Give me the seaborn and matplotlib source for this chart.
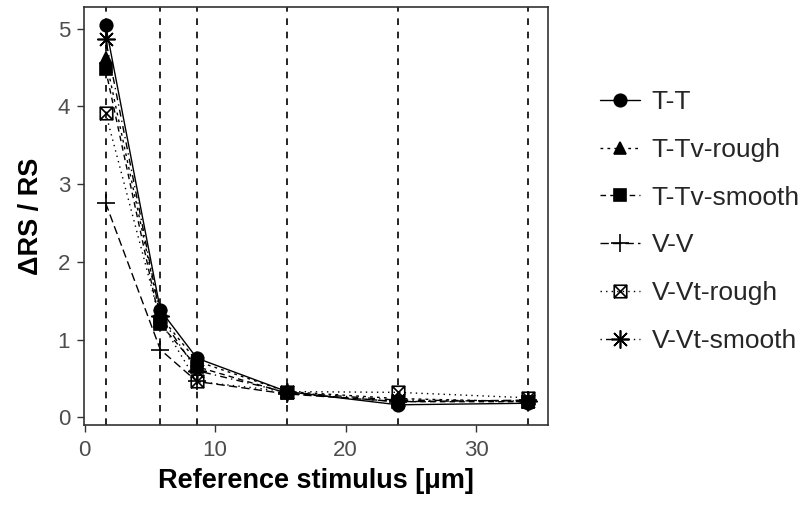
import numpy as np
import pandas as pd
import matplotlib
matplotlib.use("Agg")
import matplotlib.pyplot as plt
from matplotlib.path import Path
import seaborn as sns

# ---- data ----
x_ref = [1.6, 5.8, 8.6, 15.5, 24.0, 34.0]
series = ["T-T", "T-Tv-rough", "T-Tv-smooth", "V-V", "V-Vt-rough", "V-Vt-smooth"]
tt          = [5.05, 1.38, 0.76, 0.33, 0.16, 0.18]
ttv_rough   = [4.62, 1.30, 0.72, 0.33, 0.24, 0.20]
ttv_smooth  = [4.48, 1.20, 0.65, 0.31, 0.20, 0.20]
vv          = [2.76, 0.87, 0.46, 0.30, 0.20, 0.22]
vvt_rough   = [3.92, 1.24, 0.46, 0.33, 0.32, 0.25]
vvt_smooth  = [4.87, 1.30, 0.60, 0.32, 0.22, 0.21]
x_ticks = [0, 10, 20, 30]
y_ticks = [0, 1, 2, 3, 4, 5]

values = [tt, ttv_rough, ttv_smooth, vv, vvt_rough, vvt_smooth]
df = pd.DataFrame({
    "x": np.tile(x_ref, len(series)),
    "y": np.concatenate(values),
    "series": np.repeat(series, len(x_ref)),
})

sns.set_theme(style="white")
plt.rcParams["font.family"] = ["Liberation Sans", "DejaVu Sans"]

# custom markers
boxtimes = Path(
    [(-1, -1), (1, -1), (1, 1), (-1, 1), (-1, -1), (1, 1), (-1, 1), (1, -1)],
    [Path.MOVETO, Path.LINETO, Path.LINETO, Path.LINETO, Path.LINETO,
     Path.LINETO, Path.MOVETO, Path.LINETO],
)
style = {
    "T-T":         dict(marker="o", ls="-", ms=9, fc="black"),
    "T-Tv-rough":  dict(marker="^", ls=(0, (2, 3)), ms=9, fc="black"),
    "T-Tv-smooth": dict(marker="s", ls=(0, (4, 3)), ms=8, fc="black"),
    "V-V":         dict(marker="+", ls=(0, (6, 3)), ms=13, fc="black"),
    "V-Vt-rough":  dict(marker=boxtimes, ls=(0, (1, 3)), ms=9, fc="none"),
    "V-Vt-smooth": dict(marker=(8, 2, 0), ls=(0, (1, 3, 5, 3)), ms=13, fc="black"),
}

fig = plt.figure(figsize=(8.08, 5.09), dpi=100)
ax = fig.add_axes([84 / 808, 1 - 425 / 509, (548 - 84) / 808, (425 - 7) / 509])

for xv in x_ref:
    ax.axvline(xv, color="black", lw=1.2, ls=(0, (4, 4)), zorder=1)

handles = []
for name in series:
    st = style[name]
    sub = df[df["series"] == name]
    sns.lineplot(
        data=sub, x="x", y="y", color="black", lw=1.0,
        marker=st["marker"], linestyle=st["ls"], markersize=st["ms"],
        markerfacecolor=st["fc"], markeredgecolor="black",
        markeredgewidth=1.2, ax=ax, label=name, zorder=3,
    )
    handles.append(ax.lines[-1])

if ax.get_legend() is not None:
    ax.get_legend().remove()

ax.set_xlim(-0.05, 35.5)
ax.set_ylim(-0.1, 5.28)
ax.set_xticks(x_ticks)
ax.set_yticks(y_ticks)
ax.tick_params(axis="both", which="both", direction="out", length=5, width=1,
               color="#333333", labelcolor="#4d4d4d", labelsize=16,
               bottom=True, left=True)
ax.tick_params(axis="x", pad=6)
ax.tick_params(axis="y", pad=5)
for s in ax.spines.values():
    s.set_color("#333333")
    s.set_linewidth(1.2)
    s.set_visible(True)

ax.set_xlabel("Reference stimulus [μm]", fontsize=19.5, fontweight="bold", color="black", labelpad=5)
ax.set_ylabel("ΔRS / RS", fontsize=19.5, fontweight="bold", color="black", labelpad=10)

fig.legend(handles, series, loc="upper left",
           bbox_to_anchor=(600 / 808, 1 - 90 / 509), frameon=False,
           fontsize=19, handlelength=1.5, handletextpad=0.45,
           labelspacing=0.9, borderpad=0, borderaxespad=0)

fig.savefig("out.png", dpi=100)
